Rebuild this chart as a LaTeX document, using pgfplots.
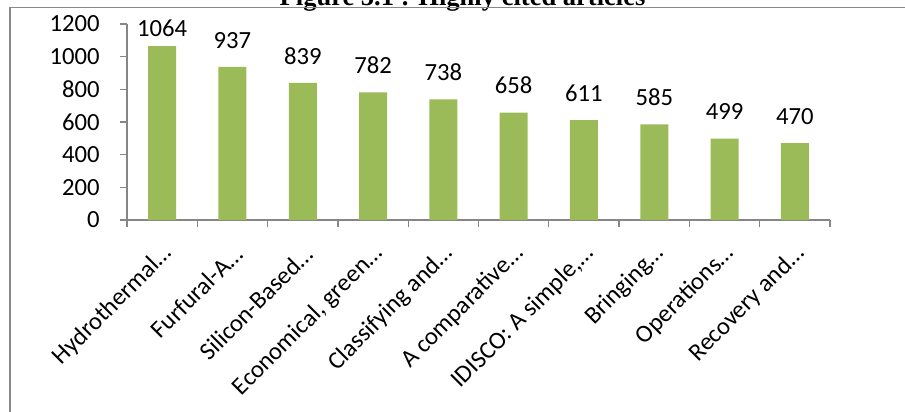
\documentclass[border=0pt]{standalone}
\usepackage{pgfplots}
\pgfplotsset{compat=1.18}
\usepackage{fontspec}
\setmainfont{Carlito}
\newfontfamily\titlefont{Liberation Serif}
\definecolor{bargreen}{RGB}{155,187,89}
\definecolor{axisgray}{RGB}{134,134,134}
\definecolor{framegray}{RGB}{136,136,136}
\newcommand{\chartfont}{\fontsize{18.5pt}{20pt}\selectfont}

\begin{document}
\begin{tikzpicture}
  % visible page area
  \useasboundingbox (0pt,0pt) rectangle (678.75pt,-308.25pt);
  \clip (0pt,0pt) rectangle (678.75pt,-308.25pt);

  % caption above the chart frame
  \node[anchor=base, inner sep=0pt] at (346.9pt,-3.75pt)
    {\titlefont\bfseries\fontsize{19.9pt}{24pt}\selectfont Figure 5.1 : Highly cited articles};

  % chart area border
  \draw[framegray, line width=1.1pt] (7.5pt,-5.625pt) rectangle (712.5pt,-337.5pt);

  \begin{axis}[
    at={(95.25pt,-165pt)}, anchor=south west,
    scale only axis, width=527.25pt, height=147pt,
    ybar, bar width=21pt,
    xmin=-0.5, xmax=9.5, ymin=0, ymax=1200,
    ytick={0,200,...,1200},
    xtick={0,...,9},
    xticklabels={Hydrothermal…, Furfural-A…, Silicon-Based…, {Economical, green…},
      Classifying and…, A comparative…, {IDISCO: A simple,…}, Bringing…,
      Operations…, Recovery and…},
    minor xtick={-0.5,0.5,...,9.5},
    axis lines*=left,
    axis line style={axisgray, line width=1pt},
    tick align=outside,
    major tick length=5.25pt, minor tick length=5.25pt,
    major x tick style={draw=none},
    major y tick style={axisgray, line width=1pt},
    minor x tick style={axisgray, line width=1pt},
    /pgf/number format/.cd, 1000 sep={}, assume math mode=true, /pgfplots/.cd,
    yticklabel style={font=\chartfont, inner sep=0pt, anchor=east, xshift=-15pt},
    xticklabel style={font=\chartfont, inner sep=0pt, xshift=4.5pt, yshift=-17.25pt, rotate=45, anchor=east},
    nodes near coords,
    nodes near coords style={font=\chartfont, inner sep=0pt, anchor=base, yshift=13.9pt},
  ]
    \addplot[fill=bargreen, draw=none,
      coordinate style/.condition={\coordindex==0}{yshift=-6.75pt}]
      coordinates {(0,1064) (1,937) (2,839) (3,782) (4,738)
                   (5,658) (6,611) (7,585) (8,499) (9,470)};
  \end{axis}
\end{tikzpicture}
\end{document}
